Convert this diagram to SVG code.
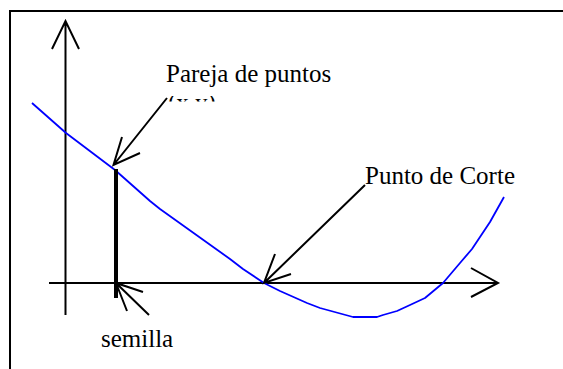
<svg xmlns="http://www.w3.org/2000/svg" width="563" height="369" viewBox="0 0 563 369">
<style>
.ln{stroke:#000;stroke-width:2;fill:none;stroke-linecap:butt}
.lbl{font-family:"Liberation Serif","Times New Roman",serif;font-size:25px;fill:#000}
.curve{stroke:#0000ff;stroke-width:1.8;fill:none;stroke-linejoin:round}
</style>
<defs>
<clipPath id="clipPair"><rect x="150" y="96" width="90" height="5.5"/></clipPath>
</defs>
<rect width="563" height="369" fill="#fff"/>
<g id="frame">
<path class="ln" d="M10 369 V11 H563"/>
</g>
<g id="axes">
<path class="ln" d="M65.5 315 V21 M52 49 L65.5 21 L79 49"/>
<path class="ln" d="M49 283 H498 M471 268 L498 283 L471 297"/>
</g>
<g id="curve">
<polyline class="curve" points="32,103 66,133 115,170 150,201 160,209 216,249 230,259 243,269 264,283 280,291 307,303 320,308 353,317 377,317 383,315 397,311 410,305 425,298 443,283 460,263 472,249 480,237 490,222 504,197"/>
</g>
<g id="seed-bar">
<line x1="116" y1="169" x2="116" y2="298" stroke="#000" stroke-width="4"/>
</g>
<g id="label-pareja">
<text class="lbl" x="166" y="82">Pareja de puntos</text>
<text class="lbl" x="168" y="111" fill="#666" clip-path="url(#clipPair)">(x,y)</text>
</g>
<g id="label-corte">
<text class="lbl" x="365" y="184">Punto de Corte</text>
</g>
<g id="label-semilla">
<text class="lbl" x="101" y="347">semilla</text>
</g>
<g id="connectors">
<path class="ln" d="M167 98 L113.5 165 M122 137 L113.5 165 L140 153"/>
<path class="ln" d="M365 185 L264 283 M275 254 L264 283 L291 274"/>
<path class="ln" d="M149 315 L116 283 M127 311 L116 283 L143 292"/>
</g>
</svg>
